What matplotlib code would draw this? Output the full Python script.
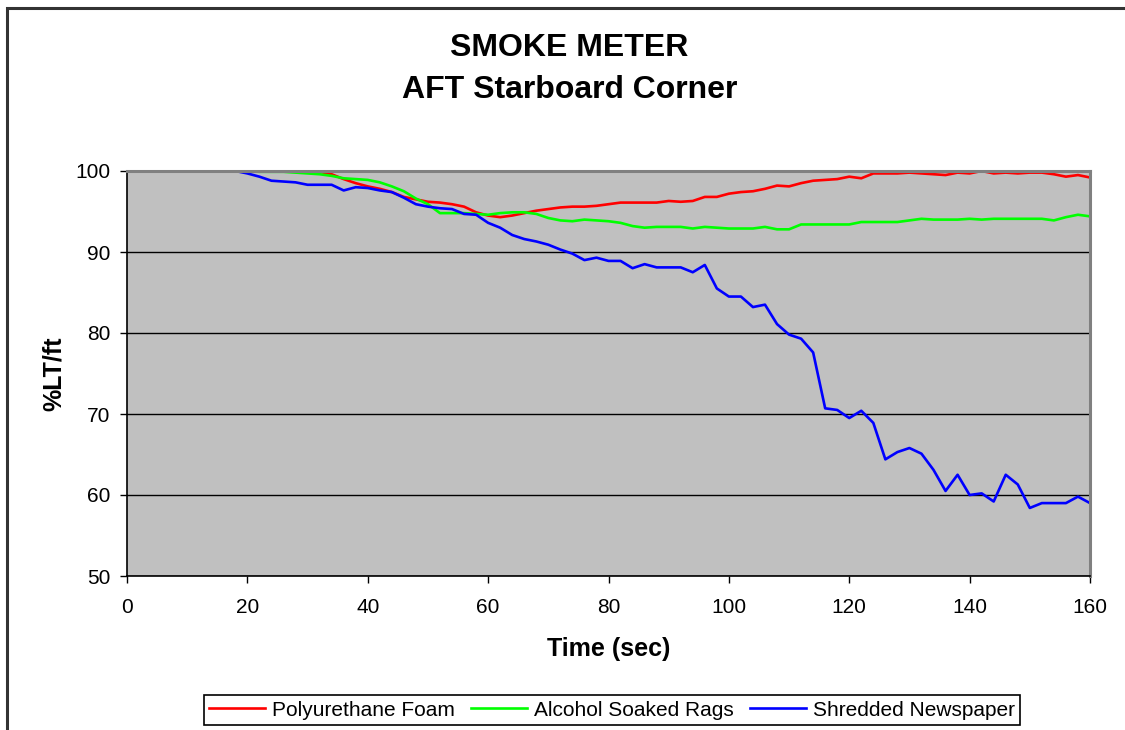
import numpy as np
import matplotlib
matplotlib.use('Agg')
from matplotlib import pyplot as plt
from matplotlib.patches import Rectangle

plt.rcParams['font.family'] = ['Liberation Sans', 'DejaVu Sans']

# time in seconds, one reading every 2 s
time = list(range(0, 162, 2))

foam = [100.0, 100.0, 100.0, 100.0, 100.0, 100.0, 100.0, 100.0, 100.0, 100.0,
        100.0, 100.0, 100.0, 100.0, 100.0, 100.0, 99.9, 99.6, 99.0, 98.5,
        98.1, 97.8, 97.4, 96.8, 96.5, 96.2, 96.1, 95.9, 95.6, 94.9,
        94.5, 94.3, 94.5, 94.8, 95.1, 95.3, 95.5, 95.6, 95.6, 95.7,
        95.9, 96.1, 96.1, 96.1, 96.1, 96.3, 96.2, 96.3, 96.8, 96.8,
        97.2, 97.4, 97.5, 97.8, 98.2, 98.1, 98.5, 98.8, 98.9, 99.0,
        99.3, 99.1, 99.7, 99.7, 99.7, 99.8, 99.7, 99.6, 99.5, 99.8,
        99.7, 100.0, 99.7, 99.8, 99.7, 99.8, 99.8, 99.6, 99.3, 99.5,
        99.2]

rags = [100.0, 100.0, 100.0, 100.0, 100.0, 100.0, 100.0, 100.0, 100.0, 100.0,
        100.0, 99.9, 99.9, 99.9, 99.8, 99.7, 99.6, 99.4, 99.1, 99.0,
        98.9, 98.6, 98.1, 97.5, 96.6, 95.9, 94.8, 94.8, 94.8, 94.7,
        94.6, 94.8, 94.9, 94.9, 94.7, 94.2, 93.9, 93.8, 94.0, 93.9,
        93.8, 93.6, 93.2, 93.0, 93.1, 93.1, 93.1, 92.9, 93.1, 93.0,
        92.9, 92.9, 92.9, 93.1, 92.8, 92.8, 93.4, 93.4, 93.4, 93.4,
        93.4, 93.7, 93.7, 93.7, 93.7, 93.9, 94.1, 94.0, 94.0, 94.0,
        94.1, 94.0, 94.1, 94.1, 94.1, 94.1, 94.1, 93.9, 94.3, 94.6,
        94.4]

newspaper = [100.0, 100.0, 100.0, 100.0, 100.0, 100.0, 100.0, 100.0, 100.0, 100.0,
             99.7, 99.3, 98.8, 98.7, 98.6, 98.3, 98.3, 98.3, 97.6, 98.0,
             97.9, 97.6, 97.4, 96.7, 95.9, 95.6, 95.4, 95.3, 94.7, 94.6,
             93.6, 93.0, 92.1, 91.6, 91.3, 90.9, 90.3, 89.8, 89.0, 89.3,
             88.9, 88.9, 88.0, 88.5, 88.1, 88.1, 88.1, 87.5, 88.4, 85.5,
             84.5, 84.5, 83.2, 83.5, 81.1, 79.8, 79.3, 77.6, 70.7, 70.5,
             69.5, 70.4, 68.9, 64.4, 65.3, 65.8, 65.1, 63.1, 60.5, 62.5,
             60.0, 60.2, 59.2, 62.5, 61.3, 58.4, 59.0, 59.0, 59.0, 59.8,
             59.0]

series_names = ['Polyurethane Foam', 'Alcohol Soaked Rags', 'Shredded Newspaper']
series_colors = ['#FF0000', '#00FF00', '#0000FF']

fig = plt.figure(figsize=(11.25, 7.3), dpi=100)
fig.patch.set_facecolor('white')

# outer chart border (cut off on the right and bottom)
fig.patches.append(Rectangle((7 / 1125, -0.05), 1.2, 1 - 8 / 730 + 0.05,
                             transform=fig.transFigure, fill=False,
                             edgecolor='#333333', linewidth=2.2))

ax = fig.add_axes([127 / 1125, 1 - 576 / 730, 963 / 1125, 405 / 730])
ax.set_facecolor('#C0C0C0')

for vals, name, col in zip([foam, rags, newspaper], series_names, series_colors):
    ax.plot(time, vals, color=col, linewidth=1.9, label=name)

ax.set_xlim(0, 160)
ax.set_ylim(50, 100)
ax.set_xticks(range(0, 161, 20))
ax.set_yticks(range(50, 101, 10))
ax.yaxis.grid(True, color='black', linewidth=1.0)
ax.set_axisbelow(True)

ax.spines['top'].set_color('#808080')
ax.spines['right'].set_color('#808080')
ax.spines['top'].set_linewidth(2.2)
ax.spines['right'].set_linewidth(2.2)
ax.spines['left'].set_color('black')
ax.spines['bottom'].set_color('black')
ax.spines['left'].set_linewidth(1.2)
ax.spines['bottom'].set_linewidth(1.2)

ax.tick_params(axis='both', direction='out', length=5, width=1, labelsize=15,
               colors='black')
ax.tick_params(axis='x', pad=11)
ax.tick_params(axis='y', pad=7)

ax.set_xlabel('Time (sec)', fontsize=18, fontweight='bold', labelpad=14)
ax.set_ylabel('%LT/ft', fontsize=18, fontweight='bold', labelpad=7)

fig.text(0.506, 1 - 48 / 730, 'SMOKE METER', ha='center', va='center',
         fontsize=23, fontweight='bold')
fig.text(0.506, 1 - 90 / 730, 'AFT Starboard Corner', ha='center', va='center',
         fontsize=23, fontweight='bold')

leg = fig.legend(loc='center', bbox_to_anchor=(612 / 1125, 1 - 710 / 730),
                 ncol=3, fontsize=15, frameon=True, fancybox=False,
                 edgecolor='black', framealpha=1, handlelength=2.7,
                 handletextpad=0.35, columnspacing=0.75, borderpad=0.25,
                 borderaxespad=0.2)
leg.get_frame().set_linewidth(1.2)

plt.savefig('out.png', dpi=100)
